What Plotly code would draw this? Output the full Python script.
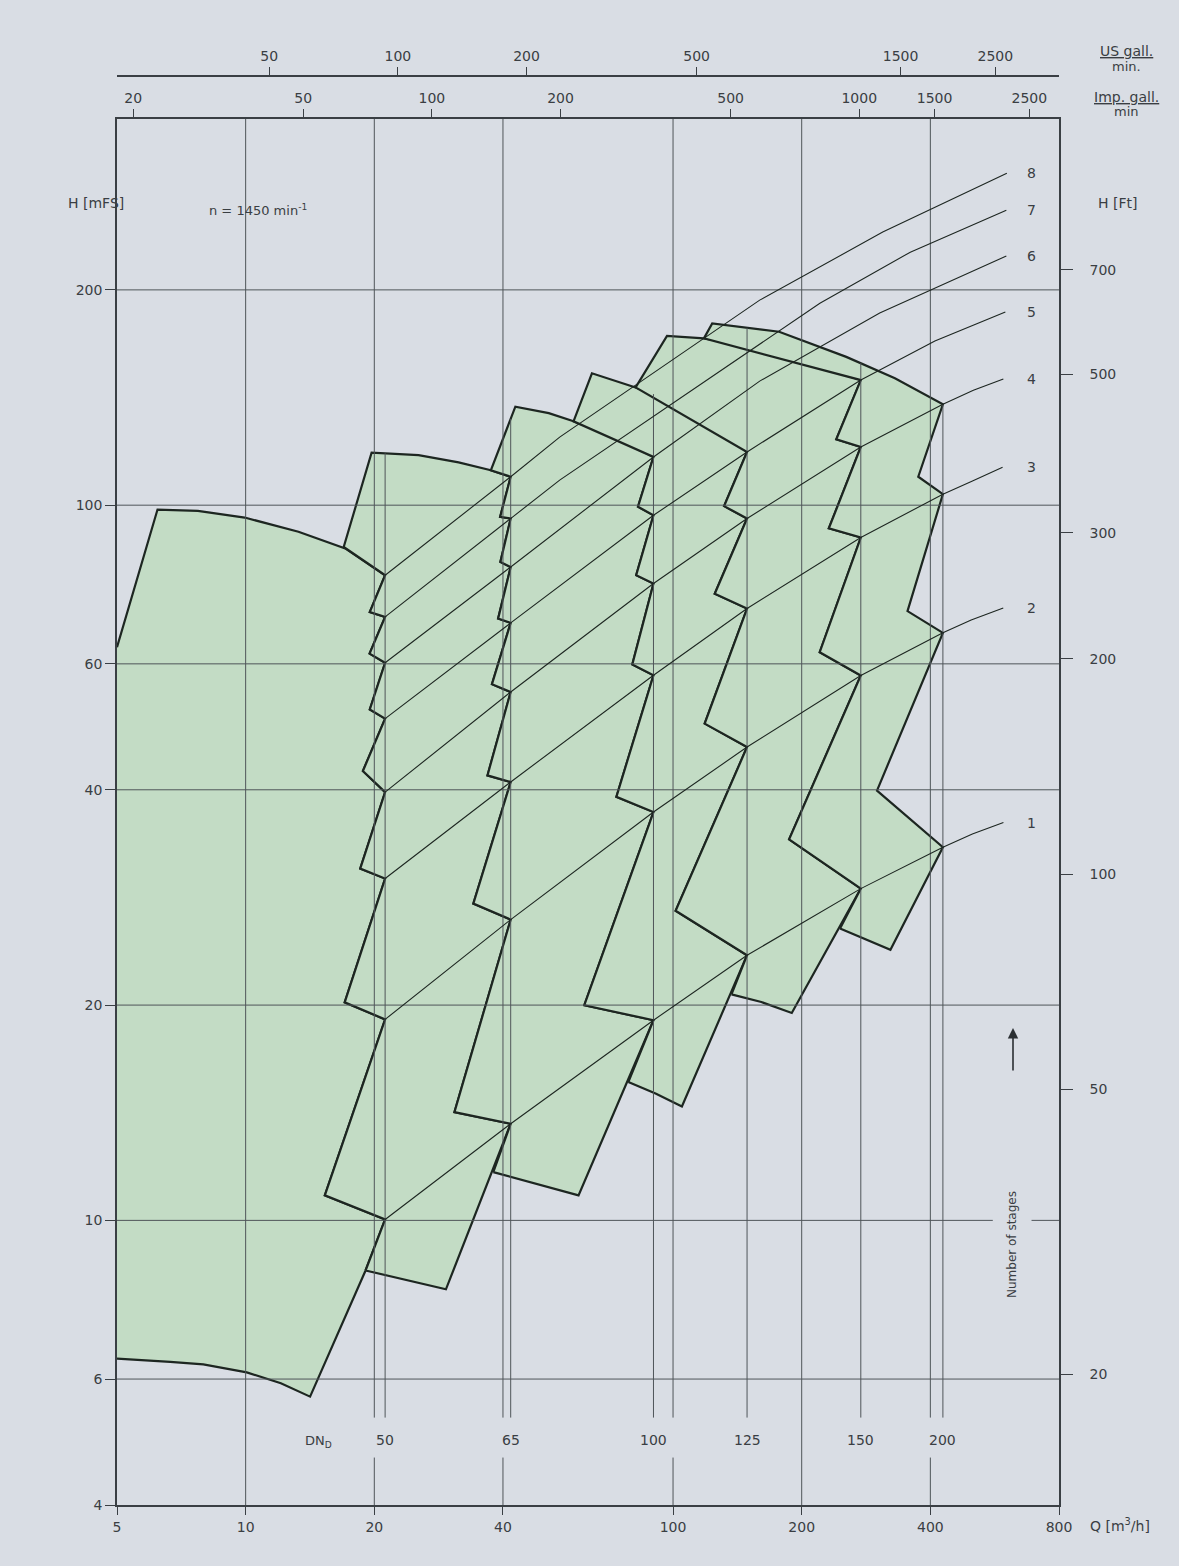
import plotly.graph_objects as go
import math

# ---------------- unit conversions ----------------
M3H_TO_IMP = 3.6662
M3H_TO_US = 4.4029
M_TO_FT = 3.28084

Q_MIN, Q_MAX = 5.0, 800.0
H_MIN, H_MAX = 4.0, 346.7

# ---------------- tick values ----------------
Q_TICKS = [5, 10, 20, 40, 100, 200, 400, 800]
H_TICKS = [4, 6, 10, 20, 40, 60, 100, 200]
FT_TICKS = [20, 50, 100, 200, 300, 500, 700]
IMP_TICKS = [20, 50, 100, 200, 500, 1000, 1500, 2500]
US_TICKS = [50, 100, 200, 500, 1500, 2500]
H_GRID = [6, 10, 20, 40, 60, 100, 200]
Q_GRID = [10, 20, 40, 100, 200, 400]
Q_GRID_GAP = [20, 40, 100, 400]

# ---------------- DN lines (flow of the stage points) ----------------
DN_LABELS = ["50", "65", "100", "125", "150", "200"]
DN_Q = [21.2, 41.7, 90.0, 149.0, 275.0, 428.0]
DN_TOP_H = [118.2, 132.0, 143.0, 177.0, 158.0, 138.4]   # upper end of the DN lines

# head of stage points 1..N on each DN line
H_DN50 = [10.03, 19.1, 30.06, 39.7, 50.3, 60.2, 69.8, 79.8]
H_DN65 = [13.65, 26.34, 41.02, 54.8, 68.45, 81.95, 95.8, 109.6]
H_DN100 = [19.05, 37.24, 57.84, 77.7, 96.8, 116.8]
H_DN125 = [23.48, 45.9, 71.7, 95.8, 118.7]
H_DN150 = [29.1, 57.8, 90.1, 120.6, 149.6]
H_DN200 = [33.24, 66.3, 103.6, 138.4]

# notch points of the saw-tooth left of each DN line
NQ_DN50 = [15.32, 17.05, 18.54, 18.81, 19.52, 19.5, 19.52, 16.96]
NH_DN50 = [10.84, 20.18, 31.04, 42.5, 51.8, 62.0, 70.9, 87.4]
NQ_DN65 = [30.8, 34.1, 36.8, 37.7, 38.97, 39.45, 39.4, 37.47]
NH_DN65 = [14.17, 27.73, 41.9, 56.2, 69.4, 83.3, 96.3, 111.9]
NQ_DN100 = [62.0, 73.7, 80.3, 82.0, 82.8, 58.5]
NH_DN100 = [19.99, 39.1, 59.9, 79.8, 99.5, 131.0]
NQ_DN125 = [101.4, 118.6, 125.2, 131.7, 81.75]
NH_DN125 = [27.1, 49.5, 75.2, 99.7, 146.1]
NQ_DN150 = [186.9, 220.4, 231.5, 241.0, 118.1]
NH_DN150 = [34.1, 62.3, 92.8, 123.6, 171.1]
NQ_DN200 = [300.1, 353.7, 374.8]
NH_DN200 = [39.9, 71.1, 109.6]

# left-most (single size) field
F0_TOP_Q = [5.0, 6.22, 7.73, 9.95, 13.29, 17.1]
F0_TOP_H = [63.3, 98.6, 98.2, 96.1, 91.8, 87.0]
F0_BOT_Q = [5.0, 6.66, 7.96, 10.06, 12.09, 14.15]
F0_BOT_H = [6.41, 6.34, 6.29, 6.13, 5.92, 5.67]

# top curves (first point = upper-left corner) of each field
F50_TOP_Q = [19.71, 25.38, 31.5, 37.47]
F50_TOP_H = [118.4, 117.5, 114.8, 111.9]
F65_TOP_Q = [42.76, 51.2, 58.5, 74.8]
F65_TOP_H = [137.3, 134.5, 131.0, 123.7]
F100_TOP_Q = [64.6, 81.75, 97.9, 119.5]
F100_TOP_H = [152.9, 146.1, 140.3, 131.5]
F125_TOP_Q = [96.8, 118.1, 148.0, 220.1]
F125_TOP_H = [172.4, 171.1, 167.4, 156.1]
F150_TOP_Q = [123.5, 177.1, 254.3, 330.5]
F150_TOP_H = [179.5, 174.8, 161.2, 150.5]

# bottom curves (left corner -> right corner)
F50_BOT_Q = [19.08, 23.44, 29.42]
F50_BOT_H = [8.51, 8.27, 8.01]
F65_BOT_Q = [37.97, 47.1, 60.1]
F65_BOT_H = [11.68, 11.27, 10.84]
F100_BOT_Q = [78.6, 91.0, 104.9]
F100_BOT_H = [15.61, 15.05, 14.43]
F125_BOT_Q = [137.0, 160.9, 189.6]
F125_BOT_H = [20.7, 20.2, 19.5]
F150_BOT_Q = [245.9, 322.6]
F150_BOT_H = [25.59, 23.9]

# stage-line run-outs towards the stage labels
EXT_Q = {1: [501.6, 593.0], 2: [498.4, 592.5], 3: [501.9, 590.3], 4: [504.4, 592.8],
         5: [409.9, 599.2], 6: [159.5, 304.5, 602.4],
         7: [54.3, 220.6, 359.0, 602.4], 8: [54.3, 159.5, 309.5, 604.0]}
EXT_H = {1: [34.7, 36.0], 2: [69.1, 71.8], 3: [108.1, 113.0], 4: [144.8, 150.1],
         5: [169.6, 186.2], 6: [149.1, 185.6, 223.0],
         7: [108.4, 191.6, 225.8, 258.5], 8: [124.5, 193.5, 240.9, 291.2]}
STAGE_LABEL_Q = 690.0

# gap of the 10 m grid line behind the "Number of stages" text
TEXT_GAP_Q = [560.0, 690.0]

# ---------------- style ----------------
BG = "#d9dde4"
GREEN = "#c3dcc5"
EDGE = "#1d2621"
GRID = "#4f5559"
TEXT = "#3a3e43"
FONT = "DejaVu Sans"

W, H = 1179, 1566
ML, MR, MT, MB = 117, 120, 76, 61
PLOT_TOP_PX = 119
Y_DOMAIN_TOP = (H - MB - PLOT_TOP_PX) / (H - MB - MT)

fig = go.Figure()

DN_H = [H_DN50, H_DN65, H_DN100, H_DN125, H_DN150, H_DN200]
DN_NQ = [NQ_DN50, NQ_DN65, NQ_DN100, NQ_DN125, NQ_DN150, NQ_DN200]
DN_NH = [NH_DN50, NH_DN65, NH_DN100, NH_DN125, NH_DN150, NH_DN200]
TOPS = [(F50_TOP_Q, F50_TOP_H), (F65_TOP_Q, F65_TOP_H), (F100_TOP_Q, F100_TOP_H),
        (F125_TOP_Q, F125_TOP_H), (F150_TOP_Q, F150_TOP_H)]
BOTS = [(F50_BOT_Q, F50_BOT_H), (F65_BOT_Q, F65_BOT_H), (F100_BOT_Q, F100_BOT_H),
        (F125_BOT_Q, F125_BOT_H), (F150_BOT_Q, F150_BOT_H)]


def line_trace(xs, ys, width, color=GRID):
    fig.add_trace(go.Scatter(x=xs, y=ys, mode="lines", hoverinfo="skip", showlegend=False,
                             line=dict(color=color, width=width)))


# ---------------- field 0 (left) ----------------
xs = list(F0_TOP_Q)
ys = list(F0_TOP_H)
xs.append(DN_Q[0]); ys.append(H_DN50[-1])
for i in range(len(H_DN50) - 2, -1, -1):
    xs += [NQ_DN50[i], DN_Q[0]]
    ys += [NH_DN50[i], H_DN50[i]]
xs.append(F50_BOT_Q[0]); ys.append(F50_BOT_H[0])
xs += F0_BOT_Q[::-1]; ys += F0_BOT_H[::-1]
fig.add_trace(go.Scatter(x=xs, y=ys, mode="lines", fill="toself", fillcolor=GREEN,
                         line=dict(width=0, color=GREEN), hoverinfo="skip", showlegend=False))
line_trace(xs, ys, 2.2, EDGE)

# ---------------- fields between DN lines ----------------
for k in range(5):
    qd, hd, nq, nh = DN_Q[k], DN_H[k], DN_NQ[k], DN_NH[k]
    qe, he, enq, enh = DN_Q[k + 1], DN_H[k + 1], DN_NQ[k + 1], DN_NH[k + 1]
    tq, th = TOPS[k]
    bq, bh = BOTS[k]
    xs = [bq[0]]; ys = [bh[0]]
    for i in range(len(hd)):
        xs += [qd, nq[i]]
        ys += [hd[i], nh[i]]
    xs += list(tq); ys += list(th)
    xs.append(qe); ys.append(he[-1])
    for i in range(len(he) - 2, -1, -1):
        xs += [enq[i], qe]
        ys += [enh[i], he[i]]
    xs += bq[::-1]; ys += bh[::-1]
    fig.add_trace(go.Scatter(x=xs, y=ys, mode="lines", fill="toself", fillcolor=GREEN,
                             line=dict(width=2.2, color=EDGE), hoverinfo="skip",
                             showlegend=False))

# ---------------- grid (drawn over the fields) ----------------
gx, gy = [], []
for h in H_GRID:
    if h == 10:
        gx += [Q_MIN, TEXT_GAP_Q[0], None, TEXT_GAP_Q[1], Q_MAX, None]
        gy += [h, h, None, h, h, None]
    else:
        gx += [Q_MIN, Q_MAX, None]; gy += [h, h, None]
line_trace(gx, gy, 1.0)
H_GAP_LO, H_GAP_HI = 4.66, 5.30
gx, gy = [], []
for q in Q_GRID:
    if q in Q_GRID_GAP:
        gx += [q, q, None, q, q, None]; gy += [H_MIN, H_GAP_LO, None, H_GAP_HI, H_MAX, None]
    else:
        gx += [q, q, None]; gy += [H_MIN, H_MAX, None]
line_trace(gx, gy, 1.0)
gx, gy = [], []
for q, ht in zip(DN_Q, DN_TOP_H):
    gx += [q, q, None]; gy += [H_GAP_HI, ht, None]
line_trace(gx, gy, 1.0)

# ---------------- stage lines ----------------
for n in range(1, 9):
    sq, sh = [], []
    for q, hs in zip(DN_Q, DN_H):
        if len(hs) >= n:
            sq.append(q); sh.append(hs[n - 1])
    sq += EXT_Q[n]; sh += EXT_H[n]
    line_trace(sq, sh, 1.1, EDGE)
    fig.add_annotation(x=math.log10(STAGE_LABEL_Q), y=math.log10(EXT_H[n][-1]), xref="x", yref="y",
                       text=str(n), showarrow=False, xanchor="center", yanchor="middle",
                       font=dict(size=14, color=TEXT, family=FONT))

# dummy traces so that the secondary axes are drawn
fig.add_trace(go.Scatter(x=[100], y=[10], xaxis="x2", yaxis="y", mode="markers",
                         marker=dict(opacity=0), hoverinfo="skip", showlegend=False))
fig.add_trace(go.Scatter(x=[100], y=[10], xaxis="x3", yaxis="y", mode="markers",
                         marker=dict(opacity=0), hoverinfo="skip", showlegend=False))
fig.add_trace(go.Scatter(x=[10], y=[100], xaxis="x", yaxis="y2", mode="markers",
                         marker=dict(opacity=0), hoverinfo="skip", showlegend=False))


def px(x, y):
    return (x - ML) / (W - ML - MR), (H - MB - y) / (H - MB - MT)


def note(text, x, y, size=14, **kw):
    a, b = px(x, y)
    fig.add_annotation(x=a, y=b, xref="paper", yref="paper", text=text, showarrow=False,
                       xanchor="center", yanchor="middle",
                       font=dict(size=size, color=TEXT, family=FONT), **kw)


note("H [mFS]", 96, 203)
note("n = 1450 min<sup>-1</sup>", 258, 210, size=13)
note("H [Ft]", 1117, 203)
note("<u>US gall.</u>", 1126, 51)
note("min.", 1126, 67, size=13)
note("<u>Imp. gall.</u>", 1126, 97)
note("min", 1126, 112, size=13)
note("Q [m<sup>3</sup>/h]", 1120, 1525)
note("DN<sub>D</sub>", 318, 1441, size=13)
note("Number of stages", 1012, 1245, size=12, textangle=-90)
for lab, q in zip(DN_LABELS, DN_Q):
    a, b = px(0, 1440)
    fig.add_annotation(x=math.log10(q), y=b, xref="x", yref="paper", text=lab, showarrow=False,
                       xanchor="center", yanchor="middle",
                       font=dict(size=14, color=TEXT, family=FONT))
ax_, ay_ = px(1013, 1028)
fig.add_annotation(x=ax_, y=ay_, xref="paper", yref="paper", text="", showarrow=True,
                   ax=0, ay=44, arrowhead=2, arrowsize=1.3, arrowwidth=1.6, arrowcolor="#2b2f33")

tick_font = dict(size=14, color=TEXT, family=FONT)
axis_common = dict(type="log", showgrid=False, zeroline=False, showline=True,
                   linecolor="#3a3f44", ticks="outside", tickcolor="#3a3f44",
                   tickfont=tick_font)

fig.update_layout(
    width=W, height=H,
    margin=dict(l=ML, r=MR, t=MT, b=MB),
    paper_bgcolor=BG, plot_bgcolor=BG,
    showlegend=False,
    xaxis=dict(range=[math.log10(Q_MIN), math.log10(Q_MAX)], tickvals=Q_TICKS,
               ticktext=[str(v) for v in Q_TICKS], ticklen=8, linewidth=1.5,
               anchor="y", **axis_common),
    xaxis2=dict(range=[math.log10(Q_MIN * M3H_TO_IMP), math.log10(Q_MAX * M3H_TO_IMP)],
                tickvals=IMP_TICKS, ticktext=[str(v) for v in IMP_TICKS], ticklen=8,
                linewidth=2, overlaying="x", side="top", anchor="y", **axis_common),
    xaxis3=dict(range=[math.log10(Q_MIN * M3H_TO_US), math.log10(Q_MAX * M3H_TO_US)],
                tickvals=US_TICKS, ticktext=[str(v) for v in US_TICKS], ticklen=8,
                linewidth=2, overlaying="x", side="top", anchor="free", position=1.0,
                **axis_common),
    yaxis=dict(range=[math.log10(H_MIN), math.log10(H_MAX)], domain=[0, Y_DOMAIN_TOP],
               tickvals=H_TICKS, ticktext=[str(v) for v in H_TICKS], ticklen=10,
               linewidth=1.5, anchor="x", **axis_common),
    yaxis2=dict(range=[math.log10(H_MIN * M_TO_FT), math.log10(H_MAX * M_TO_FT)],
                domain=[0, Y_DOMAIN_TOP], tickvals=FT_TICKS, ticktext=[str(v) for v in FT_TICKS],
                ticklen=12, linewidth=1.5, overlaying="y", side="right", anchor="x",
                ticklabelstandoff=14, **axis_common),
)

fig.write_html("out.html", config={"displayModeBar": False},
               post_script="document.body.style.margin='0px';"
                           "document.body.style.background='" + BG + "';")
